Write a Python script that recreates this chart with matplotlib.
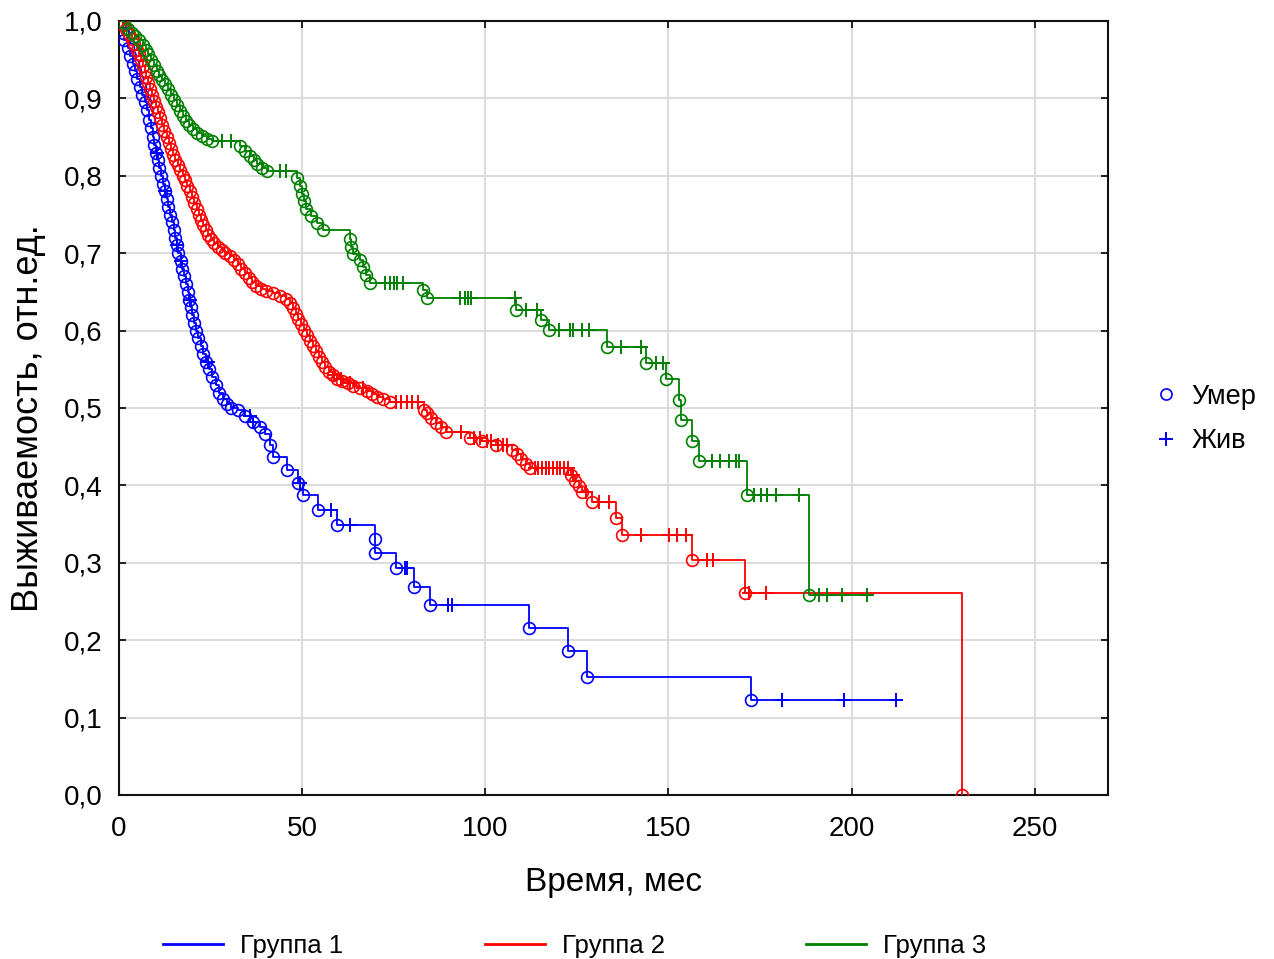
import numpy as np
import matplotlib
matplotlib.use("Agg")
import matplotlib.pyplot as plt
from matplotlib.lines import Line2D
from matplotlib.ticker import FuncFormatter, MultipleLocator

plt.rcParams['font.family'] = ['Liberation Sans', 'DejaVu Sans']

# ---- data ----
# Group 1: death times (months) and survival just after each death
g1_event_t = [1.0, 1.5, 2.5, 3.0, 3.8, 4.4, 5.0, 5.7, 6.3, 7.0, 7.6, 8.2, 8.7, 9.2, 9.6,
              10.1, 10.6, 11.0, 11.5, 12.0, 12.5, 13.0, 13.5, 14.0, 14.5, 15.0, 15.4, 15.8,
              16.2, 16.8, 17.3, 17.8, 18.3, 18.8, 19.2, 19.6, 20.0, 20.4, 21.0, 21.6, 22.3,
              23.0, 23.8, 24.6, 25.5, 26.4, 27.3, 28.4, 29.5, 30.5, 32.5, 34.5, 36.5, 38.5,
              39.8, 41.2, 42.0, 46.0, 48.8, 50.2, 54.3, 59.4, 69.8, 69.9, 75.5, 80.5, 85.0,
              111.8, 122.7, 127.9, 172.5]
g1_event_s = [0.985, 0.975, 0.965, 0.955, 0.945, 0.935, 0.925, 0.915, 0.905, 0.895, 0.885,
              0.872, 0.862, 0.850, 0.840, 0.830, 0.820, 0.810, 0.800, 0.790, 0.780, 0.770,
              0.760, 0.750, 0.740, 0.730, 0.720, 0.710, 0.700, 0.690, 0.680, 0.670, 0.660,
              0.650, 0.640, 0.630, 0.620, 0.610, 0.600, 0.590, 0.580, 0.570, 0.560, 0.550,
              0.540, 0.530, 0.520, 0.512, 0.505, 0.500, 0.497, 0.490, 0.482, 0.475, 0.467,
              0.452, 0.437, 0.420, 0.403, 0.388, 0.368, 0.349, 0.331, 0.313, 0.293, 0.269,
              0.245, 0.216, 0.186, 0.153, 0.123]
g1_censor_t = [10.5, 12.5, 15.8, 17.0, 19.4, 24.3, 35.7, 36.6, 49.3, 58.0, 63.0, 78.0, 78.5,
               89.7, 91.0, 181.0, 198.0, 212.0]

# Group 2
g2_event_t = [1.0, 2.0, 2.8, 3.5, 4.2, 4.8, 5.4, 6.0, 6.5, 7.0, 7.5, 8.0, 8.5, 9.0, 9.5, 10.0,
              10.6, 11.2, 11.8, 12.4, 13.0, 13.6, 14.2, 14.8, 15.4, 16.0, 16.7, 17.4, 18.0,
              18.7, 19.3, 20.0, 20.6, 21.2, 21.8, 22.4, 23.0, 23.7, 24.4, 25.2, 26.0, 27.0,
              28.0, 29.0, 30.2, 31.3, 32.4, 33.4, 34.4, 35.4, 36.4, 37.5, 38.7, 40.0, 42.0,
              44.0, 45.5, 46.6, 47.5, 48.3, 49.0, 49.8, 50.6, 51.4, 52.2, 53.0, 53.8, 54.6,
              55.4, 56.3, 57.2, 58.3, 59.5, 61.0, 62.5, 64.0, 65.7, 67.6, 69.0, 70.3, 72.0,
              74.0, 83.2, 84.2, 85.3, 86.5, 88.0, 89.4, 95.7, 99.0, 103.0, 107.4, 108.6, 109.8,
              111.0, 112.2, 123.5, 124.5, 125.5, 126.5, 129.2, 135.8, 137.4, 156.5, 171.0, 230.1]
g2_event_s = [0.995, 0.990, 0.983, 0.977, 0.970, 0.963, 0.957, 0.950, 0.942, 0.935, 0.928,
              0.920, 0.912, 0.904, 0.896, 0.889, 0.882, 0.875, 0.866, 0.858, 0.850, 0.842,
              0.834, 0.827, 0.820, 0.814, 0.807, 0.800, 0.794, 0.787, 0.780, 0.773, 0.765,
              0.757, 0.750, 0.743, 0.737, 0.730, 0.724, 0.718, 0.713, 0.708, 0.704, 0.700,
              0.696, 0.691, 0.686, 0.680, 0.674, 0.668, 0.663, 0.658, 0.654, 0.651, 0.649,
              0.645, 0.641, 0.636, 0.629, 0.622, 0.615, 0.608, 0.601, 0.594, 0.587, 0.580,
              0.573, 0.566, 0.559, 0.553, 0.547, 0.542, 0.538, 0.535, 0.532, 0.529, 0.526,
              0.522, 0.518, 0.514, 0.511, 0.508, 0.498, 0.493, 0.487, 0.481, 0.475, 0.469,
              0.461, 0.457, 0.452, 0.446, 0.440, 0.434, 0.428, 0.423, 0.413, 0.406, 0.399,
              0.392, 0.379, 0.358, 0.336, 0.304, 0.261, 0.0]
g2_censor_t = [58.8, 60.5, 63.0, 66.5, 75.5, 77.0, 78.5, 80.0, 81.5, 93.5, 97.0, 98.5, 100.5,
               101.5, 103.5, 104.7, 106.0, 113.5, 114.5, 115.5, 116.5, 117.5, 118.5, 119.5,
               120.5, 121.5, 122.5, 124.0, 127.5, 131.0, 133.9, 142.6, 150.2, 152.4, 154.8,
               160.6, 162.3, 172.0, 176.7]

# Group 3
g3_event_t = [1.5, 2.5, 3.5, 4.5, 5.5, 6.5, 7.3, 8.0, 8.8, 9.5, 10.3, 11.0, 11.8, 12.6, 13.4,
              14.2, 15.0, 15.8, 16.6, 17.4, 18.3, 19.2, 20.2, 21.3, 22.6, 24.0, 25.4, 33.0,
              34.5, 35.7, 36.8, 37.8, 39.0, 40.3, 48.5, 49.3, 49.9, 50.4, 51.0, 52.5, 54.0,
              55.6, 63.0, 63.4, 64.0, 65.7, 66.5, 67.5, 68.4, 83.0, 84.2, 108.5, 115.3, 117.5,
              133.3, 144.0, 149.4, 153.0, 153.5, 156.5, 158.4, 171.5, 188.4]
g3_event_s = [0.997, 0.990, 0.985, 0.980, 0.975, 0.969, 0.963, 0.957, 0.950, 0.943, 0.936,
              0.930, 0.924, 0.918, 0.912, 0.905, 0.898, 0.891, 0.884, 0.877, 0.871, 0.865,
              0.860, 0.855, 0.851, 0.848, 0.845, 0.838, 0.832, 0.826, 0.820, 0.815, 0.810,
              0.806, 0.797, 0.787, 0.777, 0.767, 0.757, 0.748, 0.739, 0.730, 0.718, 0.708,
              0.699, 0.691, 0.682, 0.672, 0.662, 0.652, 0.642, 0.627, 0.614, 0.601, 0.579,
              0.558, 0.537, 0.510, 0.485, 0.457, 0.431, 0.388, 0.259]
g3_censor_t = [28.0, 30.5, 44.0, 45.5, 72.5, 74.0, 75.0, 76.0, 77.4, 93.0, 94.5, 95.2, 96.2,
               108.0, 111.2, 114.0, 120.0, 123.0, 124.0, 126.5, 128.4, 137.0, 142.6, 146.7,
               148.5, 162.0, 164.0, 166.5, 168.5, 169.3, 173.4, 175.3, 177.0, 179.4, 185.7,
               191.0, 193.3, 197.4, 204.2]

group_names = ["Группа 1", "Группа 2", "Группа 3"]
group_colors = ["#0000ff", "#ff0000", "#008000"]


def surv_at(t_query, ev_t, ev_s):
    """Survival of the step curve at each censor time."""
    ev_t = np.asarray(ev_t)
    ev_s = np.asarray(ev_s)
    idx = np.searchsorted(ev_t, t_query, side="right") - 1
    return np.where(idx >= 0, ev_s[np.clip(idx, 0, None)], 1.0)


def draw_group(ax, ev_t, ev_s, cen_t, color):
    cen_s = surv_at(cen_t, ev_t, ev_s)
    all_t = np.concatenate([[0.0], ev_t, cen_t])
    all_s = np.concatenate([[1.0], ev_s, cen_s])
    order = np.argsort(all_t, kind="stable")
    ax.step(all_t[order], all_s[order], where="post", color=color, lw=1.3, zorder=3)
    ax.plot(ev_t, ev_s, "o", ms=8.5, mfc="none", mec=color, mew=1.2, zorder=4)
    ax.plot(cen_t, cen_s, "+", ms=10, mec=color, mew=1.4, zorder=4)


fig = plt.figure(figsize=(12.74, 9.59), dpi=100)
ax = fig.add_axes([119 / 1274, 1 - 795 / 959, (1108 - 119) / 1274, (795 - 21) / 959])

draw_group(ax, g1_event_t, g1_event_s, g1_censor_t, group_colors[0])
draw_group(ax, g2_event_t, g2_event_s, g2_censor_t, group_colors[1])
draw_group(ax, g3_event_t, g3_event_s, g3_censor_t, group_colors[2])

ax.set_xlim(0, 270)
ax.set_ylim(0, 1.0)
ax.xaxis.set_major_locator(MultipleLocator(50))
ax.yaxis.set_major_locator(MultipleLocator(0.1))
ax.yaxis.set_major_formatter(FuncFormatter(lambda v, p: f"{v:.1f}".replace(".", ",")))
ax.grid(True, color="#dcdcdc", lw=1.5, zorder=0)
ax.set_axisbelow(True)
ax.tick_params(direction="in", length=5, width=1.2, top=True, right=True, labelsize=20)
ax.tick_params(axis="x", pad=15)
ax.tick_params(axis="y", pad=12)
for sp in ax.spines.values():
    sp.set_linewidth(1.5)
    sp.set_color("#111111")

ax.set_xlabel("Время, мес", fontsize=24)
ax.set_ylabel("Выживаемость, отн.ед.", fontsize=26)
ax.xaxis.set_label_coords(0.5, -0.093)
ax.yaxis.set_label_coords(-0.074, 0.487)

# bottom legend with the groups
group_handles = [Line2D([], [], color=c, lw=2) for c in group_colors]
fig.legend(group_handles, group_names, loc="center left", ncol=3,
           bbox_to_anchor=(163 / 1274, 1 - 946 / 959), frameon=False,
           borderpad=0, borderaxespad=0, handlelength=2.33, handletextpad=0.66,
           columnspacing=5.52, fontsize=18.5)

# right legend with marker meaning
mark_handles = [Line2D([], [], ls="none", marker="o", ms=8, mfc="none", mec="#0000ff", mew=1.2),
                Line2D([], [], ls="none", marker="+", ms=10, mec="#0000ff", mew=1.4)]
fig.legend(mark_handles, ["Умер", "Жив"], loc="center left",
           bbox_to_anchor=(1152 / 1274, 1 - 419 / 959), frameon=False,
           borderpad=0, borderaxespad=0, handlelength=1.0, handletextpad=0.45,
           labelspacing=0.7, fontsize=19.5)

fig.savefig("out.png", dpi=100)
